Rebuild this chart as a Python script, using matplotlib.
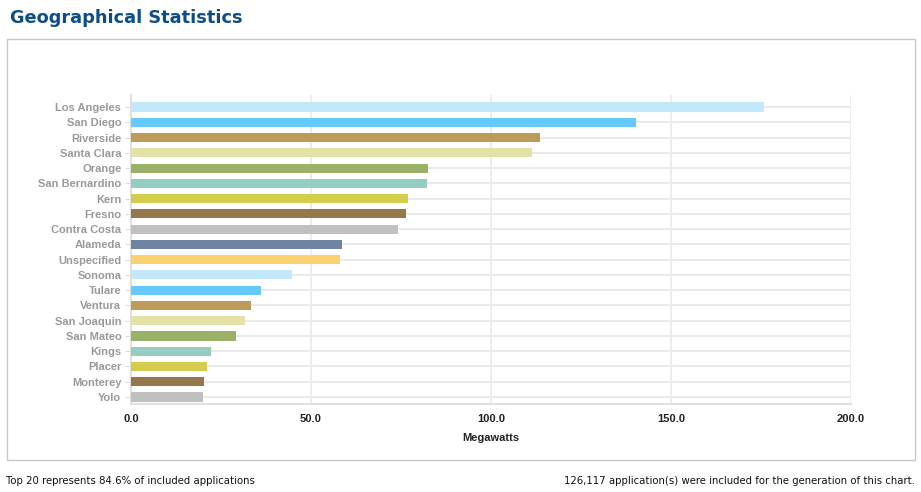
import matplotlib
matplotlib.use("Agg")
import matplotlib.pyplot as plt
from matplotlib.patches import Rectangle

counties = ["Los Angeles", "San Diego", "Riverside", "Santa Clara", "Orange",
            "San Bernardino", "Kern", "Fresno", "Contra Costa", "Alameda",
            "Unspecified", "Sonoma", "Tulare", "Ventura", "San Joaquin",
            "San Mateo", "Kings", "Placer", "Monterey", "Yolo"]
megawatts = [175.7, 140.3, 113.6, 111.3, 82.5, 82.1, 77.0, 76.4, 74.1, 58.6,
             58.0, 44.6, 36.0, 33.4, 31.7, 29.2, 22.1, 21.0, 20.3, 19.9]
palette = ["#c3e8fc", "#66c9fc", "#bb9a5a", "#e3e2a6", "#9ab167",
           "#95cdc0", "#d4cc4d", "#94774b", "#c0c0c0", "#6e84a3", "#fbd06f"]
colors = [palette[i % len(palette)] for i in range(len(counties))]
xticks = [0, 50, 100, 150, 200]
xticklabels = ["0.0", "50.0", "100.0", "150.0", "200.0"]

W, H = 921, 492
fig = plt.figure(figsize=(W / 100, H / 100), dpi=100)
fig.patch.set_facecolor("white")

# chart box
fig.add_artist(Rectangle((7 / W, 1 - 460 / H), (915 - 7) / W, (460 - 39) / H,
                         transform=fig.transFigure, fill=False,
                         edgecolor="#c8c8c8", linewidth=1.0))

fig.text(10 / W, 1 - 18 / H, "Geographical Statistics", fontsize=12.8,
         fontweight="bold", color="#0f4d85", family="DejaVu Sans", va="center")

ax = fig.add_axes([131 / W, 1 - 404 / H, (851 - 131) / W, (404 - 95) / H])
ypos = list(range(len(counties)))
ax.barh(ypos, megawatts, height=0.6, color=colors, zorder=3)
ax.set_ylim(19.46, -0.79)
ax.set_xlim(0, 200)
ax.set_yticks(ypos)
ax.set_yticklabels(counties, fontsize=8, fontweight="bold", color="#999999",
                   family="Liberation Sans")
ax.set_xticks(xticks)
ax.set_xticklabels(xticklabels, fontsize=8, fontweight="bold", color="#222222",
                   family="Liberation Sans")
ax.set_xlabel("Megawatts", fontsize=8, fontweight="bold", color="#222222",
              family="Liberation Sans", labelpad=7)
for y in ypos:
    ax.axhline(y, color="#e6e6e6", linewidth=1.2, zorder=1)
for x in xticks:
    ax.axvline(x, color="#ececec", linewidth=1.5, zorder=1)
for s in ["top", "right"]:
    ax.spines[s].set_visible(False)
ax.spines["left"].set_color("#e0e0e0")
ax.spines["left"].set_linewidth(1.5)
ax.spines["bottom"].set_color("#e0e0e0")
ax.spines["bottom"].set_linewidth(1.5)
ax.tick_params(axis="y", length=4, color="#dddddd", pad=3)
ax.tick_params(axis="x", length=0, pad=7)

fig.text(6 / W, 1 - 481 / H, "Top 20 represents 84.6% of included applications",
         fontsize=7.3, color="#111111", family="DejaVu Sans", va="center")
fig.text(915 / W, 1 - 481 / H,
         "126,117 application(s) were included for the generation of this chart.",
         fontsize=7.3, color="#111111", family="DejaVu Sans", va="center", ha="right")

fig.savefig("out.png", dpi=100)
